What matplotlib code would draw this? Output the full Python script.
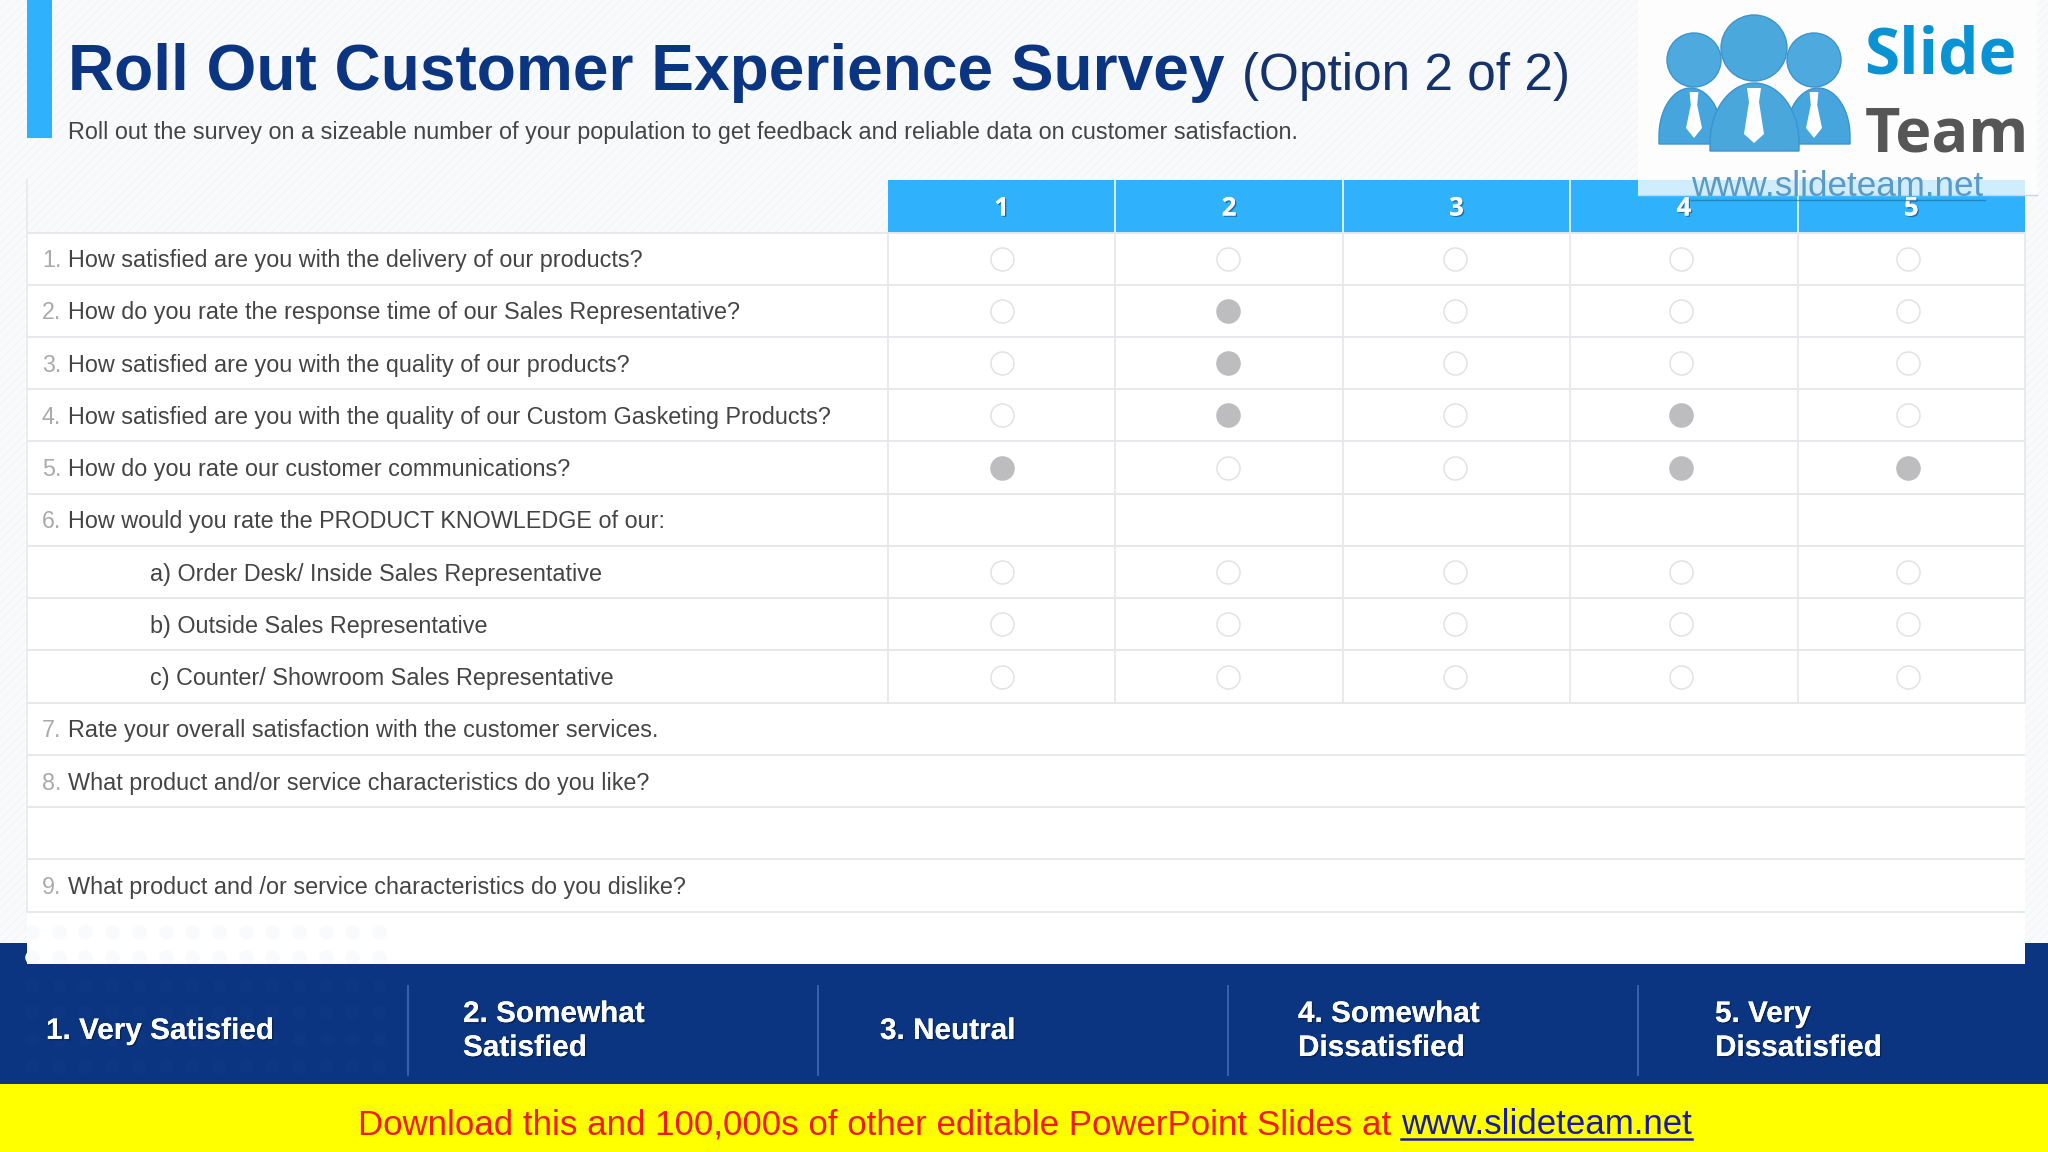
import matplotlib
matplotlib.use('Agg')
import matplotlib.pyplot as plt
import matplotlib.patheffects as pe
from matplotlib.collections import LineCollection
from matplotlib.patches import Circle, Polygon, Rectangle
import numpy as np

W, H = 2048, 1152

# table content
numbers = ['1.', '2.', '3.', '4.', '5.', '6.', '', '', '', '7.', '8.', '', '9.']
questions = [
    'How satisfied are you with the delivery of our products?',
    'How do you rate the response time of our Sales Representative?',
    'How satisfied are you with the quality of our products?',
    'How satisfied are you with the quality of our Custom Gasketing Products?',
    'How do you rate our customer communications?',
    'How would you rate the PRODUCT KNOWLEDGE of our:',
    'a) Order Desk/ Inside Sales Representative',
    'b) Outside Sales Representative',
    'c) Counter/ Showroom Sales Representative',
    'Rate your overall satisfaction with the customer services.',
    'What product and/or service characteristics do you like?',
    '',
    'What product and /or service characteristics do you dislike?',
]
scale_labels = ['1', '2', '3', '4', '5']
# row -> selected columns, rows missing here have no radio buttons
radio_rows = {
    0: [],
    1: [2],
    2: [2],
    3: [2, 4],
    4: [1, 4, 5],
    6: [],
    7: [],
    8: [],
}
legend_labels = [
    '1. Very Satisfied',
    '2. Somewhat\nSatisfied',
    '3. Neutral',
    '4. Somewhat\nDissatisfied',
    '5. Very\nDissatisfied',
]
legend_x = [46, 463, 880, 1298, 1715]
separators_x = [408, 818, 1228, 1638]

NAVY = '#0b3580'
SKY = '#2fb2fb'
LINE = '#e6e8ec'
FONT = 'Liberation Sans'

fig = plt.figure(figsize=(W / 100, H / 100), dpi=100, facecolor='#f9fafc')
ax = fig.add_axes([0, 0, 1, 1])
ax.set_xlim(0, W)
ax.set_ylim(H, 0)
ax.axis('off')


def rect(x0, y0, x1, y1, color, z=1, **kw):
    ax.add_patch(Rectangle((x0, y0), x1 - x0, y1 - y0, fc=color, ec='none', zorder=z, **kw))


def shadowed(x, y, s, size, family=FONT, ha='left', va='center', z=6, **kw):
    t = ax.text(x, y, s, fontsize=size, family=family, color='white', fontweight='bold',
                ha=ha, va=va, zorder=z, linespacing=1.27, **kw)
    t.set_path_effects([pe.withSimplePatchShadow(offset=(1, -1), shadow_rgbFace='#000000', alpha=0.35),
                        pe.Normal()])
    return t


# hatched slide background
offs = np.arange(-H, W, 9)
hatch = LineCollection([[(o, H), (o + H, 0)] for o in offs], colors='#f2f4f8', linewidths=0.8, zorder=0)
ax.add_collection(hatch)

# title block
rect(27, 0, 52, 138, SKY, 2)
ax.text(68, 90, 'Roll Out Customer Experience Survey', fontsize=46.05, fontweight='bold',
        family=FONT, color=NAVY, va='baseline', zorder=3)
ax.text(1242, 90, '(Option 2 of 2)', fontsize=37, family=FONT, color='#15326b', va='baseline', zorder=3)
ax.text(68, 132, 'Roll out the survey on a sizeable number of your population to get feedback and reliable '
        'data on customer satisfaction.', fontsize=16.84, family=FONT, color='#444444', va='center', zorder=3)

# table geometry
col_edges = np.linspace(888, 2025, len(scale_labels) + 1)
col_centers = (col_edges[:-1] + col_edges[1:]) / 2
radio_x = col_centers[0] + 226.5 * np.arange(len(scale_labels))
row_h = 52.24
row_top = 232.5
row_lines = row_top + row_h * np.arange(len(questions) + 2)
row_centers = row_top + row_h * (np.arange(len(questions)) + 0.5)

rect(27, row_top, 2025, 975, 'white', 1)
rect(888, 180, 2025, row_top, SKY, 2)

# faint dot texture bottom left
dot_x = 32 + 26.7 * np.arange(14)
for y in [932, 957]:
    ax.scatter(dot_x, [y] * len(dot_x), s=110, color='#f8fafc', linewidths=0, zorder=1.5)

for y in row_lines[:14]:
    ax.plot([27, 2025], [y, y], color=LINE, lw=1.4, zorder=2, solid_capstyle='butt')
ax.plot([27, 27], [180, row_lines[13]], color=LINE, lw=1.2, zorder=2)
for x in col_edges:
    ax.plot([x, x], [row_top, row_lines[9]], color=LINE, lw=1.3, zorder=2)
for x in col_edges[1:-1]:
    ax.plot([x, x], [180, row_top], color='#d8effe', lw=1.4, zorder=3)

for c, lab in zip(col_centers, scale_labels):
    shadowed(c, 208, lab, 18.5, family='Open Sans', ha='center')

for y, num, q in zip(row_centers, numbers, questions):
    if num:
        ax.text(42, y + 2, num, fontsize=16.8, family=FONT, color='#aaaaaa', va='center', zorder=3)
    indent = 150 if q[:2] in ('a)', 'b)', 'c)') else 68
    ax.text(indent, y + 2, q, fontsize=16.8, family=FONT, color='#444444', va='center', zorder=3)

# radio buttons
for row, picked in radio_rows.items():
    for j, c in enumerate(radio_x):
        on = scale_labels[j] in [str(p) for p in picked]
        ax.scatter(c, row_centers[row], s=275, zorder=4,
                   facecolor='#bdbdbf' if on else 'white',
                   edgecolor='#bdbdbf' if on else '#e2e2e4', linewidths=1.1)

# legend strip
rect(0, 943, 27, 1084, NAVY, 1)
rect(2025, 943, W, 1084, NAVY, 1)
rect(0, 964, W, 1084, NAVY, 2)
for y in [985, 1012, 1039, 1066]:
    ax.scatter(dot_x, [y] * len(dot_x), s=110, color='#0d3783', linewidths=0, zorder=2.5)
for x in separators_x:
    ax.plot([x, x], [986, 1075], color='#3563ae', lw=1.4, zorder=3)
for x, lab in zip(legend_x, legend_labels):
    shadowed(x, 1031, lab, 21.4, z=5)

# yellow download banner
rect(0, 1084, W, H, '#ffff00', 3)
t1 = ax.text(358, 1125, 'Download this and 100,000s of other editable PowerPoint Slides at ',
             fontsize=25.08, family=FONT, color='#f01c10', va='center', zorder=5)
fig.canvas.draw()
x_end = t1.get_window_extent().x1
t2 = ax.text(x_end, 1125, 'www.slideteam.net', fontsize=25.08, family=FONT, color='#1a1a9c', va='center', zorder=5)
ext = t2.get_window_extent()
ax.plot([ext.x0, ext.x1], [1139, 1139], color='#1a1a9c', lw=1.8, zorder=5)

# logo box
rect(1638, 0, 2037, 195, 'white', 7, alpha=0.78)
ax.plot([1638, 2037], [195, 195], color='#c8d4de', lw=1, zorder=8)
BLUE = '#45a5dc'


def body(x0, x1, top, bottom, color):
    cx = (x0 + x1) / 2
    a = np.linspace(np.pi, 2 * np.pi, 40)
    pts = np.c_[cx + (x1 - x0) / 2 * np.cos(a), bottom - 8 + (bottom - 8 - top) * np.sin(a)]
    pts = np.vstack([[x0, bottom], pts, [x1, bottom]])
    ax.add_patch(Polygon(pts, fc=color, ec='#3d93cc', lw=1, zorder=8))


def tie(cx, top, bottom, w):
    pts = [(cx - w * 0.55, top), (cx + w * 0.55, top), (cx + w * 0.4, top + 13), (cx + w, bottom - 10),
           (cx, bottom), (cx - w, bottom - 10), (cx - w * 0.4, top + 13)]
    ax.add_patch(Polygon(pts, fc='white', ec='none', zorder=9))


for cx, cy, r in [(1694, 60, 27), (1814, 60, 27)]:
    ax.add_patch(Circle((cx, cy), r, fc='#4eaade', ec='#3d93cc', lw=1, zorder=8))
body(1659, 1722, 88, 144, BLUE)
body(1786, 1850, 88, 144, BLUE)
tie(1694, 92, 138, 8)
tie(1814, 92, 138, 8)
ax.add_patch(Circle((1754, 48), 33, fc='#4ba8dc', ec='#3d93cc', lw=1, zorder=8.5))
body(1710, 1799, 83, 151, '#4aa7dc')
ax.add_patch(Polygon([(1747, 88), (1761, 88), (1759, 102), (1764, 134), (1754, 143), (1744, 134), (1749, 102)],
                     fc='white', ec='none', zorder=9))

ax.text(1864, 74, 'Slide', fontsize=46, fontweight='bold', family='Open Sans', color='#0a93d2',
        va='baseline', zorder=9)
ax.text(1865, 151, 'Team', fontsize=44, fontweight='bold', family='Open Sans', color='#565656',
        va='baseline', zorder=9)
ax.text(1691, 196, 'www.slideteam.net', fontsize=25.2, family=FONT, color='#5a9ac4', va='baseline', zorder=9)
ax.plot([1691, 1985], [199.5, 199.5], color='#1f6ea8', lw=1, alpha=0.7, zorder=9)

fig.savefig('out.png', dpi=100)
